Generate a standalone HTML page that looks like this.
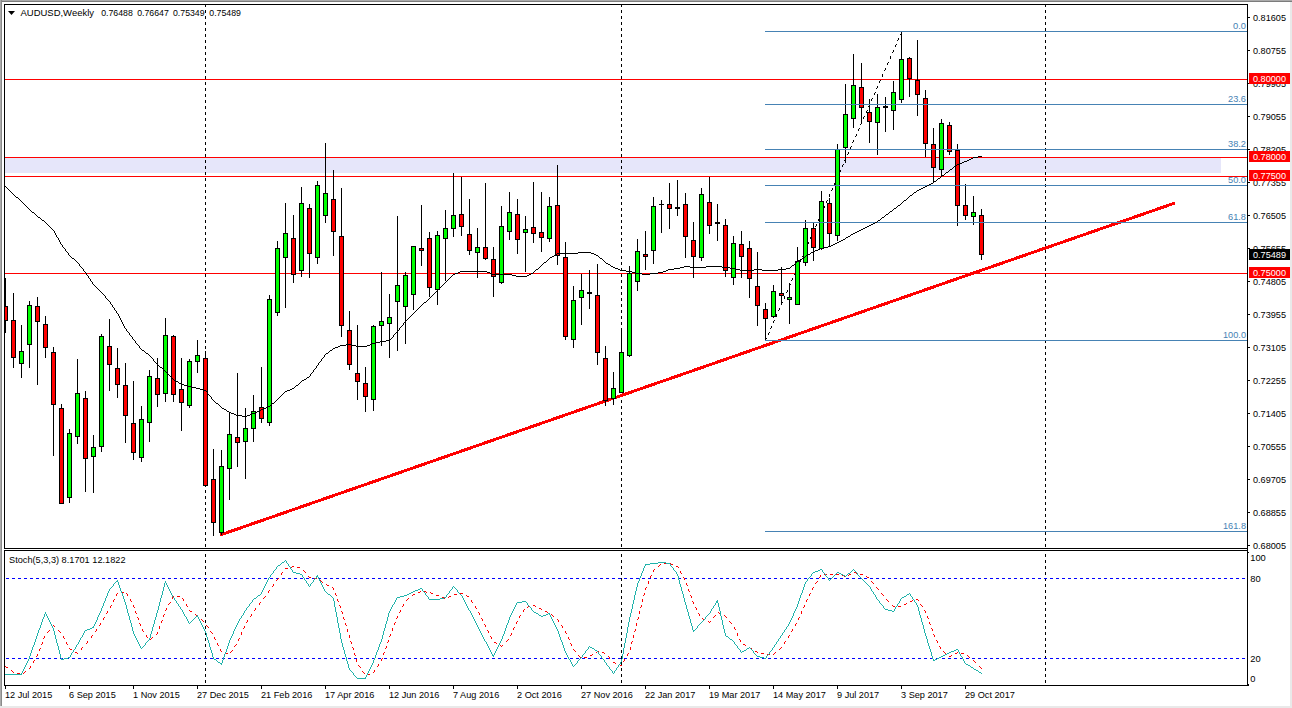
<!DOCTYPE html>
<html lang="en"><head><meta charset="utf-8"><title>AUDUSD,Weekly</title>
<style>html,body{margin:0;padding:0;background:#fff;overflow:hidden}svg{display:block}text{font-family:"Liberation Sans",Arial,sans-serif;font-size:9.8px;fill:#000}.fib{fill:#4682b4}.w{fill:#fff}</style></head><body>
<svg width="1292" height="708" viewBox="0 0 1292 708">
<g shape-rendering="crispEdges">
<rect x="0" y="0" width="1292" height="708" fill="#fff"/>
<rect x="0" y="0" width="1292" height="1" fill="#ababab"/>
<rect x="0" y="1" width="1292" height="1" fill="#7c7c7c"/>
<rect x="0" y="0" width="1" height="706" fill="#ababab"/>
<rect x="1" y="0" width="1" height="706" fill="#8a8a8a"/>
<rect x="1290" y="2" width="2" height="706" fill="#e9e9e9"/>
<rect x="0" y="706" width="1292" height="2" fill="#e9e9e9"/>
<rect x="5" y="158" width="1216" height="15" fill="#e6e6fa"/>
<line x1="205.5" y1="4" x2="205.5" y2="548" stroke="#000" stroke-width="1" stroke-dasharray="3 3"/>
<line x1="205.5" y1="550" x2="205.5" y2="685" stroke="#000" stroke-width="1" stroke-dasharray="3 3" stroke-dashoffset="2"/>
<line x1="621.5" y1="4" x2="621.5" y2="548" stroke="#000" stroke-width="1" stroke-dasharray="3 3"/>
<line x1="621.5" y1="550" x2="621.5" y2="685" stroke="#000" stroke-width="1" stroke-dasharray="3 3" stroke-dashoffset="2"/>
<line x1="1045.5" y1="4" x2="1045.5" y2="548" stroke="#000" stroke-width="1" stroke-dasharray="3 3"/>
<line x1="1045.5" y1="550" x2="1045.5" y2="685" stroke="#000" stroke-width="1" stroke-dasharray="3 3" stroke-dashoffset="2"/>
<rect x="5" y="79" width="1242" height="1" fill="#ff0000"/>
<rect x="5" y="157" width="1242" height="1" fill="#ff0000"/>
<rect x="5" y="176" width="1242" height="1" fill="#ff0000"/>
<rect x="5" y="273" width="1242" height="1" fill="#ff0000"/>
</g>
<path d="M901 32h1v2h-1zM900 34h1v1h-1zM898 38h1v2h-1zM897 40h1v1h-1zM896 44h1v1h-1zM895 45h1v2h-1zM893 50h1v2h-1zM892 52h1v1h-1zM890 56h1v3h-1zM888 62h1v1h-1zM887 63h1v2h-1zM885 68h1v2h-1zM884 70h1v1h-1zM882 74h1v3h-1zM880 80h1v1h-1zM879 81h1v2h-1zM877 86h1v2h-1zM876 88h1v1h-1zM875 92h1v1h-1zM874 93h1v2h-1zM872 98h1v1h-1zM871 99h1v2h-1zM869 104h1v2h-1zM868 106h1v1h-1zM867 110h1v1h-1zM866 111h1v2h-1zM864 116h1v1h-1zM863 117h1v2h-1zM861 122h1v2h-1zM860 124h1v1h-1zM859 128h1v1h-1zM858 129h1v2h-1zM856 134h1v2h-1zM855 136h1v1h-1zM853 140h1v2h-1zM852 142h1v1h-1zM851 146h1v1h-1zM850 147h1v2h-1zM848 152h1v2h-1zM847 154h1v1h-1zM845 158h1v2h-1zM844 160h1v1h-1zM843 164h1v1h-1zM842 165h1v2h-1zM840 170h1v2h-1zM839 172h1v1h-1zM837 176h1v3h-1zM835 182h1v1h-1zM834 183h1v2h-1zM832 188h1v2h-1zM831 190h1v1h-1zM829 194h1v3h-1zM827 200h1v1h-1zM826 201h1v2h-1zM824 206h1v2h-1zM823 208h1v1h-1zM822 212h1v1h-1zM821 213h1v2h-1zM819 218h1v1h-1zM818 219h1v2h-1zM816 224h1v2h-1zM815 226h1v1h-1zM814 230h1v1h-1zM813 231h1v2h-1zM811 236h1v1h-1zM810 237h1v2h-1zM808 242h1v2h-1zM807 244h1v1h-1zM806 248h1v1h-1zM805 249h1v2h-1zM803 254h1v2h-1zM802 256h1v1h-1zM800 260h1v2h-1zM799 262h1v1h-1zM798 266h1v1h-1zM797 267h1v2h-1zM795 272h1v2h-1zM794 274h1v1h-1zM792 278h1v2h-1zM791 280h1v1h-1zM790 284h1v1h-1zM789 285h1v2h-1zM787 290h1v2h-1zM786 292h1v1h-1zM784 296h1v3h-1zM782 302h1v1h-1zM781 303h1v2h-1zM779 308h1v2h-1zM778 310h1v1h-1zM776 314h1v3h-1zM774 320h1v1h-1zM773 321h1v2h-1zM771 326h1v2h-1zM770 328h1v1h-1zM769 332h1v1h-1zM768 333h1v2h-1zM766 338h1v1h-1zM765 339h1v2h-1z" fill="#000" shape-rendering="crispEdges"/>
<line x1="221.3" y1="534.6" x2="1173.5" y2="203.5" stroke="#ff0000" stroke-width="3" stroke-linecap="round" shape-rendering="crispEdges"/>
<g shape-rendering="crispEdges">
<rect x="5" y="278" width="1" height="55" fill="#000"/>
<rect x="5" y="306" width="3" height="15" fill="#000"/>
<rect x="5" y="307" width="2" height="13" fill="#ff0000"/>
<rect x="13" y="293" width="1" height="75" fill="#000"/>
<rect x="11" y="320" width="5" height="38" fill="#000"/>
<rect x="12" y="321" width="3" height="36" fill="#ff0000"/>
<rect x="21" y="325" width="1" height="53" fill="#000"/>
<rect x="19" y="351" width="5" height="13" fill="#000"/>
<rect x="20" y="352" width="3" height="11" fill="#00ff00"/>
<rect x="29" y="301" width="1" height="67" fill="#000"/>
<rect x="27" y="305" width="5" height="40" fill="#000"/>
<rect x="28" y="306" width="3" height="38" fill="#00ff00"/>
<rect x="37" y="297" width="1" height="88" fill="#000"/>
<rect x="35" y="306" width="5" height="16" fill="#000"/>
<rect x="36" y="307" width="3" height="14" fill="#ff0000"/>
<rect x="45" y="316" width="1" height="42" fill="#000"/>
<rect x="43" y="324" width="5" height="24" fill="#000"/>
<rect x="44" y="325" width="3" height="22" fill="#ff0000"/>
<rect x="53" y="347" width="1" height="109" fill="#000"/>
<rect x="51" y="352" width="5" height="53" fill="#000"/>
<rect x="52" y="353" width="3" height="51" fill="#ff0000"/>
<rect x="61" y="404" width="1" height="100" fill="#000"/>
<rect x="59" y="408" width="5" height="96" fill="#000"/>
<rect x="60" y="409" width="3" height="94" fill="#ff0000"/>
<rect x="69" y="429" width="1" height="74" fill="#000"/>
<rect x="67" y="433" width="5" height="65" fill="#000"/>
<rect x="68" y="434" width="3" height="63" fill="#00ff00"/>
<rect x="77" y="359" width="1" height="85" fill="#000"/>
<rect x="75" y="393" width="5" height="44" fill="#000"/>
<rect x="76" y="394" width="3" height="42" fill="#00ff00"/>
<rect x="85" y="391" width="1" height="101" fill="#000"/>
<rect x="83" y="398" width="5" height="61" fill="#000"/>
<rect x="84" y="399" width="3" height="59" fill="#ff0000"/>
<rect x="93" y="435" width="1" height="58" fill="#000"/>
<rect x="91" y="447" width="5" height="10" fill="#000"/>
<rect x="92" y="448" width="3" height="8" fill="#00ff00"/>
<rect x="101" y="334" width="1" height="118" fill="#000"/>
<rect x="99" y="336" width="5" height="111" fill="#000"/>
<rect x="100" y="337" width="3" height="109" fill="#00ff00"/>
<rect x="109" y="319" width="1" height="72" fill="#000"/>
<rect x="107" y="346" width="5" height="19" fill="#000"/>
<rect x="108" y="347" width="3" height="17" fill="#ff0000"/>
<rect x="117" y="348" width="1" height="50" fill="#000"/>
<rect x="115" y="368" width="5" height="17" fill="#000"/>
<rect x="116" y="369" width="3" height="15" fill="#ff0000"/>
<rect x="125" y="363" width="1" height="80" fill="#000"/>
<rect x="123" y="385" width="5" height="31" fill="#000"/>
<rect x="124" y="386" width="3" height="29" fill="#ff0000"/>
<rect x="133" y="381" width="1" height="79" fill="#000"/>
<rect x="131" y="423" width="5" height="30" fill="#000"/>
<rect x="132" y="424" width="3" height="28" fill="#ff0000"/>
<rect x="141" y="406" width="1" height="56" fill="#000"/>
<rect x="139" y="419" width="5" height="39" fill="#000"/>
<rect x="140" y="420" width="3" height="37" fill="#00ff00"/>
<rect x="149" y="370" width="1" height="72" fill="#000"/>
<rect x="147" y="376" width="5" height="47" fill="#000"/>
<rect x="148" y="377" width="3" height="45" fill="#00ff00"/>
<rect x="157" y="358" width="1" height="49" fill="#000"/>
<rect x="155" y="378" width="5" height="17" fill="#000"/>
<rect x="156" y="379" width="3" height="15" fill="#ff0000"/>
<rect x="165" y="318" width="1" height="84" fill="#000"/>
<rect x="163" y="335" width="5" height="59" fill="#000"/>
<rect x="164" y="336" width="3" height="57" fill="#00ff00"/>
<rect x="173" y="335" width="1" height="67" fill="#000"/>
<rect x="171" y="336" width="5" height="59" fill="#000"/>
<rect x="172" y="337" width="3" height="57" fill="#ff0000"/>
<rect x="181" y="358" width="1" height="73" fill="#000"/>
<rect x="179" y="389" width="5" height="14" fill="#000"/>
<rect x="180" y="390" width="3" height="12" fill="#ff0000"/>
<rect x="189" y="359" width="1" height="49" fill="#000"/>
<rect x="187" y="361" width="5" height="45" fill="#000"/>
<rect x="188" y="362" width="3" height="43" fill="#00ff00"/>
<rect x="197" y="340" width="1" height="33" fill="#000"/>
<rect x="195" y="355" width="5" height="7" fill="#000"/>
<rect x="196" y="356" width="3" height="5" fill="#00ff00"/>
<rect x="205" y="351" width="1" height="135" fill="#000"/>
<rect x="203" y="358" width="5" height="128" fill="#000"/>
<rect x="204" y="359" width="3" height="126" fill="#ff0000"/>
<rect x="213" y="449" width="1" height="87" fill="#000"/>
<rect x="211" y="479" width="5" height="44" fill="#000"/>
<rect x="212" y="480" width="3" height="42" fill="#ff0000"/>
<rect x="221" y="450" width="1" height="85" fill="#000"/>
<rect x="219" y="466" width="5" height="67" fill="#000"/>
<rect x="220" y="467" width="3" height="65" fill="#00ff00"/>
<rect x="229" y="412" width="1" height="88" fill="#000"/>
<rect x="227" y="434" width="5" height="35" fill="#000"/>
<rect x="228" y="435" width="3" height="33" fill="#00ff00"/>
<rect x="237" y="373" width="1" height="94" fill="#000"/>
<rect x="235" y="437" width="5" height="6" fill="#000"/>
<rect x="236" y="438" width="3" height="4" fill="#ff0000"/>
<rect x="245" y="408" width="1" height="71" fill="#000"/>
<rect x="243" y="428" width="5" height="14" fill="#000"/>
<rect x="244" y="429" width="3" height="12" fill="#00ff00"/>
<rect x="253" y="395" width="1" height="47" fill="#000"/>
<rect x="251" y="411" width="5" height="18" fill="#000"/>
<rect x="252" y="412" width="3" height="16" fill="#00ff00"/>
<rect x="261" y="367" width="1" height="56" fill="#000"/>
<rect x="259" y="407" width="5" height="12" fill="#000"/>
<rect x="260" y="408" width="3" height="10" fill="#ff0000"/>
<rect x="269" y="295" width="1" height="131" fill="#000"/>
<rect x="267" y="299" width="5" height="124" fill="#000"/>
<rect x="268" y="300" width="3" height="122" fill="#00ff00"/>
<rect x="277" y="241" width="1" height="75" fill="#000"/>
<rect x="275" y="248" width="5" height="65" fill="#000"/>
<rect x="276" y="249" width="3" height="63" fill="#00ff00"/>
<rect x="285" y="203" width="1" height="105" fill="#000"/>
<rect x="283" y="233" width="5" height="25" fill="#000"/>
<rect x="284" y="234" width="3" height="23" fill="#00ff00"/>
<rect x="293" y="215" width="1" height="68" fill="#000"/>
<rect x="291" y="238" width="5" height="37" fill="#000"/>
<rect x="292" y="239" width="3" height="35" fill="#ff0000"/>
<rect x="301" y="187" width="1" height="90" fill="#000"/>
<rect x="299" y="203" width="5" height="68" fill="#000"/>
<rect x="300" y="204" width="3" height="66" fill="#00ff00"/>
<rect x="309" y="204" width="1" height="74" fill="#000"/>
<rect x="307" y="208" width="5" height="46" fill="#000"/>
<rect x="308" y="209" width="3" height="44" fill="#ff0000"/>
<rect x="317" y="181" width="1" height="83" fill="#000"/>
<rect x="315" y="185" width="5" height="73" fill="#000"/>
<rect x="316" y="186" width="3" height="71" fill="#00ff00"/>
<rect x="325" y="143" width="1" height="80" fill="#000"/>
<rect x="323" y="193" width="5" height="23" fill="#000"/>
<rect x="324" y="194" width="3" height="21" fill="#00ff00"/>
<rect x="333" y="170" width="1" height="86" fill="#000"/>
<rect x="331" y="199" width="5" height="33" fill="#000"/>
<rect x="332" y="200" width="3" height="31" fill="#ff0000"/>
<rect x="341" y="188" width="1" height="149" fill="#000"/>
<rect x="339" y="236" width="5" height="90" fill="#000"/>
<rect x="340" y="237" width="3" height="88" fill="#ff0000"/>
<rect x="349" y="311" width="1" height="59" fill="#000"/>
<rect x="347" y="330" width="5" height="35" fill="#000"/>
<rect x="348" y="331" width="3" height="33" fill="#ff0000"/>
<rect x="357" y="325" width="1" height="75" fill="#000"/>
<rect x="355" y="373" width="5" height="9" fill="#000"/>
<rect x="356" y="374" width="3" height="7" fill="#ff0000"/>
<rect x="365" y="367" width="1" height="45" fill="#000"/>
<rect x="363" y="383" width="5" height="14" fill="#000"/>
<rect x="364" y="384" width="3" height="12" fill="#ff0000"/>
<rect x="373" y="325" width="1" height="86" fill="#000"/>
<rect x="371" y="326" width="5" height="74" fill="#000"/>
<rect x="372" y="327" width="3" height="72" fill="#00ff00"/>
<rect x="381" y="272" width="1" height="74" fill="#000"/>
<rect x="379" y="321" width="5" height="5" fill="#000"/>
<rect x="380" y="322" width="3" height="3" fill="#00ff00"/>
<rect x="389" y="294" width="1" height="64" fill="#000"/>
<rect x="387" y="317" width="5" height="7" fill="#000"/>
<rect x="388" y="318" width="3" height="5" fill="#00ff00"/>
<rect x="397" y="216" width="1" height="135" fill="#000"/>
<rect x="395" y="285" width="5" height="17" fill="#000"/>
<rect x="396" y="286" width="3" height="15" fill="#00ff00"/>
<rect x="405" y="272" width="1" height="72" fill="#000"/>
<rect x="403" y="275" width="5" height="32" fill="#000"/>
<rect x="404" y="276" width="3" height="30" fill="#00ff00"/>
<rect x="413" y="246" width="1" height="64" fill="#000"/>
<rect x="411" y="246" width="5" height="49" fill="#000"/>
<rect x="412" y="247" width="3" height="47" fill="#00ff00"/>
<rect x="421" y="205" width="1" height="61" fill="#000"/>
<rect x="419" y="248" width="5" height="3" fill="#000"/>
<rect x="420" y="249" width="3" height="1" fill="#ff0000"/>
<rect x="429" y="232" width="1" height="65" fill="#000"/>
<rect x="427" y="238" width="5" height="50" fill="#000"/>
<rect x="428" y="239" width="3" height="48" fill="#ff0000"/>
<rect x="437" y="231" width="1" height="74" fill="#000"/>
<rect x="435" y="235" width="5" height="55" fill="#000"/>
<rect x="436" y="236" width="3" height="53" fill="#00ff00"/>
<rect x="445" y="210" width="1" height="71" fill="#000"/>
<rect x="443" y="228" width="5" height="11" fill="#000"/>
<rect x="444" y="229" width="3" height="9" fill="#00ff00"/>
<rect x="453" y="173" width="1" height="64" fill="#000"/>
<rect x="451" y="215" width="5" height="14" fill="#000"/>
<rect x="452" y="216" width="3" height="12" fill="#00ff00"/>
<rect x="461" y="177" width="1" height="59" fill="#000"/>
<rect x="459" y="214" width="5" height="13" fill="#000"/>
<rect x="460" y="215" width="3" height="11" fill="#ff0000"/>
<rect x="469" y="199" width="1" height="56" fill="#000"/>
<rect x="467" y="234" width="5" height="17" fill="#000"/>
<rect x="468" y="235" width="3" height="15" fill="#ff0000"/>
<rect x="477" y="228" width="1" height="50" fill="#000"/>
<rect x="475" y="247" width="5" height="6" fill="#000"/>
<rect x="476" y="248" width="3" height="4" fill="#00ff00"/>
<rect x="485" y="183" width="1" height="77" fill="#000"/>
<rect x="483" y="247" width="5" height="12" fill="#000"/>
<rect x="484" y="248" width="3" height="10" fill="#ff0000"/>
<rect x="493" y="247" width="1" height="50" fill="#000"/>
<rect x="491" y="259" width="5" height="18" fill="#000"/>
<rect x="492" y="260" width="3" height="16" fill="#ff0000"/>
<rect x="501" y="206" width="1" height="78" fill="#000"/>
<rect x="499" y="226" width="5" height="57" fill="#000"/>
<rect x="500" y="227" width="3" height="55" fill="#00ff00"/>
<rect x="509" y="192" width="1" height="48" fill="#000"/>
<rect x="507" y="212" width="5" height="20" fill="#000"/>
<rect x="508" y="213" width="3" height="18" fill="#00ff00"/>
<rect x="517" y="199" width="1" height="55" fill="#000"/>
<rect x="515" y="214" width="5" height="26" fill="#000"/>
<rect x="516" y="215" width="3" height="24" fill="#ff0000"/>
<rect x="525" y="216" width="1" height="56" fill="#000"/>
<rect x="523" y="229" width="5" height="4" fill="#000"/>
<rect x="524" y="230" width="3" height="2" fill="#00ff00"/>
<rect x="533" y="182" width="1" height="61" fill="#000"/>
<rect x="531" y="227" width="5" height="7" fill="#000"/>
<rect x="532" y="228" width="3" height="5" fill="#ff0000"/>
<rect x="541" y="192" width="1" height="60" fill="#000"/>
<rect x="539" y="232" width="5" height="6" fill="#000"/>
<rect x="540" y="233" width="3" height="4" fill="#ff0000"/>
<rect x="549" y="197" width="1" height="45" fill="#000"/>
<rect x="547" y="206" width="5" height="33" fill="#000"/>
<rect x="548" y="207" width="3" height="31" fill="#00ff00"/>
<rect x="557" y="165" width="1" height="100" fill="#000"/>
<rect x="555" y="205" width="5" height="51" fill="#000"/>
<rect x="556" y="206" width="3" height="49" fill="#ff0000"/>
<rect x="565" y="242" width="1" height="98" fill="#000"/>
<rect x="563" y="257" width="5" height="80" fill="#000"/>
<rect x="564" y="258" width="3" height="78" fill="#ff0000"/>
<rect x="573" y="286" width="1" height="62" fill="#000"/>
<rect x="571" y="300" width="5" height="40" fill="#000"/>
<rect x="572" y="301" width="3" height="38" fill="#00ff00"/>
<rect x="581" y="274" width="1" height="51" fill="#000"/>
<rect x="579" y="290" width="5" height="8" fill="#000"/>
<rect x="580" y="291" width="3" height="6" fill="#00ff00"/>
<rect x="589" y="270" width="1" height="39" fill="#000"/>
<rect x="587" y="292" width="5" height="2" fill="#000"/>
<rect x="597" y="264" width="1" height="101" fill="#000"/>
<rect x="595" y="295" width="5" height="58" fill="#000"/>
<rect x="596" y="296" width="3" height="56" fill="#ff0000"/>
<rect x="605" y="346" width="1" height="60" fill="#000"/>
<rect x="603" y="358" width="5" height="43" fill="#000"/>
<rect x="604" y="359" width="3" height="41" fill="#ff0000"/>
<rect x="613" y="372" width="1" height="33" fill="#000"/>
<rect x="611" y="388" width="5" height="11" fill="#000"/>
<rect x="612" y="389" width="3" height="9" fill="#00ff00"/>
<rect x="621" y="329" width="1" height="64" fill="#000"/>
<rect x="619" y="352" width="5" height="41" fill="#000"/>
<rect x="620" y="353" width="3" height="39" fill="#00ff00"/>
<rect x="629" y="266" width="1" height="91" fill="#000"/>
<rect x="627" y="273" width="5" height="83" fill="#000"/>
<rect x="628" y="274" width="3" height="81" fill="#00ff00"/>
<rect x="637" y="239" width="1" height="52" fill="#000"/>
<rect x="635" y="251" width="5" height="31" fill="#000"/>
<rect x="636" y="252" width="3" height="29" fill="#00ff00"/>
<rect x="645" y="231" width="1" height="39" fill="#000"/>
<rect x="643" y="254" width="5" height="3" fill="#000"/>
<rect x="644" y="255" width="3" height="1" fill="#ff0000"/>
<rect x="653" y="197" width="1" height="67" fill="#000"/>
<rect x="651" y="206" width="5" height="45" fill="#000"/>
<rect x="652" y="207" width="3" height="43" fill="#00ff00"/>
<rect x="661" y="200" width="1" height="33" fill="#000"/>
<rect x="659" y="204" width="5" height="1" fill="#000"/>
<rect x="669" y="183" width="1" height="46" fill="#000"/>
<rect x="667" y="204" width="5" height="5" fill="#000"/>
<rect x="668" y="205" width="3" height="3" fill="#ff0000"/>
<rect x="677" y="180" width="1" height="36" fill="#000"/>
<rect x="675" y="207" width="5" height="2" fill="#000"/>
<rect x="685" y="193" width="1" height="65" fill="#000"/>
<rect x="683" y="204" width="5" height="33" fill="#000"/>
<rect x="684" y="205" width="3" height="31" fill="#ff0000"/>
<rect x="693" y="222" width="1" height="56" fill="#000"/>
<rect x="691" y="240" width="5" height="17" fill="#000"/>
<rect x="692" y="241" width="3" height="15" fill="#ff0000"/>
<rect x="701" y="188" width="1" height="73" fill="#000"/>
<rect x="699" y="194" width="5" height="64" fill="#000"/>
<rect x="700" y="195" width="3" height="62" fill="#00ff00"/>
<rect x="709" y="177" width="1" height="57" fill="#000"/>
<rect x="707" y="202" width="5" height="24" fill="#000"/>
<rect x="708" y="203" width="3" height="22" fill="#ff0000"/>
<rect x="717" y="204" width="1" height="37" fill="#000"/>
<rect x="715" y="222" width="5" height="2" fill="#000"/>
<rect x="725" y="219" width="1" height="58" fill="#000"/>
<rect x="723" y="225" width="5" height="46" fill="#000"/>
<rect x="724" y="226" width="3" height="44" fill="#ff0000"/>
<rect x="733" y="236" width="1" height="49" fill="#000"/>
<rect x="731" y="243" width="5" height="35" fill="#000"/>
<rect x="732" y="244" width="3" height="33" fill="#00ff00"/>
<rect x="741" y="231" width="1" height="47" fill="#000"/>
<rect x="739" y="244" width="5" height="13" fill="#000"/>
<rect x="740" y="245" width="3" height="11" fill="#ff0000"/>
<rect x="749" y="241" width="1" height="57" fill="#000"/>
<rect x="747" y="248" width="5" height="31" fill="#000"/>
<rect x="748" y="249" width="3" height="29" fill="#ff0000"/>
<rect x="757" y="252" width="1" height="74" fill="#000"/>
<rect x="755" y="286" width="5" height="20" fill="#000"/>
<rect x="756" y="287" width="3" height="18" fill="#ff0000"/>
<rect x="765" y="303" width="1" height="37" fill="#000"/>
<rect x="763" y="309" width="5" height="10" fill="#000"/>
<rect x="764" y="310" width="3" height="8" fill="#ff0000"/>
<rect x="773" y="285" width="1" height="33" fill="#000"/>
<rect x="771" y="291" width="5" height="26" fill="#000"/>
<rect x="772" y="292" width="3" height="24" fill="#00ff00"/>
<rect x="781" y="267" width="1" height="38" fill="#000"/>
<rect x="779" y="293" width="5" height="3" fill="#000"/>
<rect x="780" y="294" width="3" height="1" fill="#ff0000"/>
<rect x="789" y="283" width="1" height="41" fill="#000"/>
<rect x="787" y="297" width="5" height="3" fill="#000"/>
<rect x="788" y="298" width="3" height="1" fill="#00ff00"/>
<rect x="797" y="247" width="1" height="58" fill="#000"/>
<rect x="795" y="261" width="5" height="44" fill="#000"/>
<rect x="796" y="262" width="3" height="42" fill="#00ff00"/>
<rect x="805" y="220" width="1" height="46" fill="#000"/>
<rect x="803" y="228" width="5" height="35" fill="#000"/>
<rect x="804" y="229" width="3" height="33" fill="#00ff00"/>
<rect x="813" y="222" width="1" height="39" fill="#000"/>
<rect x="811" y="228" width="5" height="20" fill="#000"/>
<rect x="812" y="229" width="3" height="18" fill="#ff0000"/>
<rect x="821" y="191" width="1" height="59" fill="#000"/>
<rect x="819" y="201" width="5" height="48" fill="#000"/>
<rect x="820" y="202" width="3" height="46" fill="#00ff00"/>
<rect x="829" y="198" width="1" height="49" fill="#000"/>
<rect x="827" y="203" width="5" height="31" fill="#000"/>
<rect x="828" y="204" width="3" height="29" fill="#ff0000"/>
<rect x="837" y="144" width="1" height="97" fill="#000"/>
<rect x="835" y="149" width="5" height="87" fill="#000"/>
<rect x="836" y="150" width="3" height="85" fill="#00ff00"/>
<rect x="845" y="84" width="1" height="79" fill="#000"/>
<rect x="843" y="114" width="5" height="34" fill="#000"/>
<rect x="844" y="115" width="3" height="32" fill="#00ff00"/>
<rect x="853" y="54" width="1" height="74" fill="#000"/>
<rect x="851" y="85" width="5" height="34" fill="#000"/>
<rect x="852" y="86" width="3" height="32" fill="#00ff00"/>
<rect x="861" y="63" width="1" height="61" fill="#000"/>
<rect x="859" y="87" width="5" height="21" fill="#000"/>
<rect x="860" y="88" width="3" height="19" fill="#ff0000"/>
<rect x="869" y="99" width="1" height="44" fill="#000"/>
<rect x="867" y="112" width="5" height="10" fill="#000"/>
<rect x="868" y="113" width="3" height="8" fill="#ff0000"/>
<rect x="877" y="94" width="1" height="61" fill="#000"/>
<rect x="875" y="107" width="5" height="16" fill="#000"/>
<rect x="876" y="108" width="3" height="14" fill="#00ff00"/>
<rect x="885" y="97" width="1" height="35" fill="#000"/>
<rect x="883" y="106" width="5" height="2" fill="#000"/>
<rect x="893" y="81" width="1" height="49" fill="#000"/>
<rect x="891" y="92" width="5" height="19" fill="#000"/>
<rect x="892" y="93" width="3" height="17" fill="#00ff00"/>
<rect x="901" y="31" width="1" height="72" fill="#000"/>
<rect x="899" y="59" width="5" height="41" fill="#000"/>
<rect x="900" y="60" width="3" height="39" fill="#00ff00"/>
<rect x="909" y="57" width="1" height="40" fill="#000"/>
<rect x="907" y="58" width="5" height="21" fill="#000"/>
<rect x="908" y="59" width="3" height="19" fill="#ff0000"/>
<rect x="917" y="40" width="1" height="76" fill="#000"/>
<rect x="915" y="80" width="5" height="15" fill="#000"/>
<rect x="916" y="81" width="3" height="13" fill="#ff0000"/>
<rect x="925" y="90" width="1" height="67" fill="#000"/>
<rect x="923" y="98" width="5" height="46" fill="#000"/>
<rect x="924" y="99" width="3" height="44" fill="#ff0000"/>
<rect x="933" y="128" width="1" height="55" fill="#000"/>
<rect x="931" y="144" width="5" height="24" fill="#000"/>
<rect x="932" y="145" width="3" height="22" fill="#ff0000"/>
<rect x="941" y="119" width="1" height="58" fill="#000"/>
<rect x="939" y="123" width="5" height="47" fill="#000"/>
<rect x="940" y="124" width="3" height="45" fill="#00ff00"/>
<rect x="949" y="122" width="1" height="33" fill="#000"/>
<rect x="947" y="125" width="5" height="27" fill="#000"/>
<rect x="948" y="126" width="3" height="25" fill="#ff0000"/>
<rect x="957" y="144" width="1" height="82" fill="#000"/>
<rect x="955" y="150" width="5" height="56" fill="#000"/>
<rect x="956" y="151" width="3" height="54" fill="#ff0000"/>
<rect x="965" y="184" width="1" height="36" fill="#000"/>
<rect x="963" y="205" width="5" height="11" fill="#000"/>
<rect x="964" y="206" width="3" height="9" fill="#ff0000"/>
<rect x="973" y="196" width="1" height="29" fill="#000"/>
<rect x="971" y="212" width="5" height="5" fill="#000"/>
<rect x="972" y="213" width="3" height="3" fill="#00ff00"/>
<rect x="981" y="209" width="1" height="51" fill="#000"/>
<rect x="979" y="215" width="5" height="40" fill="#000"/>
<rect x="980" y="216" width="3" height="38" fill="#ff0000"/>
</g>
<g shape-rendering="crispEdges">
<rect x="765" y="31" width="482" height="1" fill="#4682b4"/>
<rect x="765" y="104" width="482" height="1" fill="#4682b4"/>
<rect x="765" y="149" width="482" height="1" fill="#4682b4"/>
<rect x="765" y="185" width="482" height="1" fill="#4682b4"/>
<rect x="765" y="222" width="482" height="1" fill="#4682b4"/>
<rect x="765" y="340" width="482" height="1" fill="#4682b4"/>
<rect x="765" y="531" width="482" height="1" fill="#4682b4"/>
</g>
<path d="M978 156h4v1h-4zM973 157h5v1h-5zM971 158h2v1h-2zM969 159h2v1h-2zM967 160h2v1h-2zM964 161h3v1h-3zM962 162h2v1h-2zM959 163h3v1h-3zM957 164h2v1h-2zM956 165h1v1h-1zM954 166h2v1h-2zM953 167h1v1h-1zM952 168h1v1h-1zM950 169h2v1h-2zM949 170h1v1h-1zM948 171h1v1h-1zM946 172h2v1h-2zM945 173h1v1h-1zM944 174h1v1h-1zM942 175h2v1h-2zM941 176h1v1h-1zM940 177h1v1h-1zM938 178h2v1h-2zM937 179h1v1h-1zM936 180h1v1h-1zM934 181h2v1h-2zM933 182h1v1h-1zM931 183h2v1h-2zM929 184h2v1h-2zM927 185h2v1h-2zM5 186h1v1h-1zM925 186h2v1h-2zM6 187h1v1h-1zM923 187h2v1h-2zM7 188h1v1h-1zM921 188h2v1h-2zM8 189h1v1h-1zM919 189h2v1h-2zM9 190h1v1h-1zM917 190h2v1h-2zM10 191h1v1h-1zM916 191h1v1h-1zM11 192h1v1h-1zM914 192h2v1h-2zM12 193h1v1h-1zM913 193h1v1h-1zM13 194h1v1h-1zM912 194h1v1h-1zM14 195h1v1h-1zM910 195h2v1h-2zM15 196h1v1h-1zM909 196h1v1h-1zM16 197h2v1h-2zM908 197h1v1h-1zM18 198h1v1h-1zM907 198h1v1h-1zM19 199h1v1h-1zM906 199h1v1h-1zM20 200h1v1h-1zM904 200h2v1h-2zM21 201h1v1h-1zM903 201h1v1h-1zM22 202h1v1h-1zM902 202h1v1h-1zM23 203h1v1h-1zM901 203h1v1h-1zM24 204h1v1h-1zM900 204h1v1h-1zM25 205h1v1h-1zM898 205h2v1h-2zM26 206h1v1h-1zM897 206h1v1h-1zM27 207h1v1h-1zM896 207h1v1h-1zM28 208h1v1h-1zM894 208h2v1h-2zM29 209h1v1h-1zM893 209h1v1h-1zM30 210h1v1h-1zM892 210h1v1h-1zM31 211h1v1h-1zM890 211h2v1h-2zM32 212h2v1h-2zM889 212h1v1h-1zM34 213h1v1h-1zM888 213h1v1h-1zM35 214h1v1h-1zM886 214h2v1h-2zM36 215h1v1h-1zM885 215h1v1h-1zM37 216h1v1h-1zM884 216h1v1h-1zM38 217h2v1h-2zM882 217h2v1h-2zM40 218h1v1h-1zM881 218h1v1h-1zM41 219h1v1h-1zM880 219h1v1h-1zM42 220h2v1h-2zM878 220h2v1h-2zM44 221h1v1h-1zM877 221h1v1h-1zM45 222h1v1h-1zM875 222h2v1h-2zM46 223h1v1h-1zM873 223h2v1h-2zM47 224h1v1h-1zM871 224h2v1h-2zM48 225h1v1h-1zM869 225h2v1h-2zM49 226h1v1h-1zM867 226h2v1h-2zM50 227h1v1h-1zM865 227h2v1h-2zM51 228h1v1h-1zM863 228h2v1h-2zM52 229h1v1h-1zM861 229h2v1h-2zM53 230h1v1h-1zM859 230h2v1h-2zM54 231h1v2h-1zM857 231h2v1h-2zM855 232h2v1h-2zM55 233h1v2h-1zM853 233h2v1h-2zM851 234h2v1h-2zM56 235h1v2h-1zM850 235h1v1h-1zM848 236h2v1h-2zM57 237h1v1h-1zM846 237h2v1h-2zM58 238h1v2h-1zM845 238h1v1h-1zM843 239h2v1h-2zM59 240h1v2h-1zM841 240h2v1h-2zM839 241h2v1h-2zM60 242h1v2h-1zM837 242h2v1h-2zM835 243h2v1h-2zM61 244h1v1h-1zM833 244h2v1h-2zM62 245h1v2h-1zM831 245h2v1h-2zM828 246h3v1h-3zM63 247h1v1h-1zM824 247h4v1h-4zM64 248h1v1h-1zM820 248h4v1h-4zM65 249h1v2h-1zM818 249h2v1h-2zM815 250h3v1h-3zM66 251h1v1h-1zM813 251h2v1h-2zM67 252h1v1h-1zM578 252h13v1h-13zM811 252h2v1h-2zM68 253h1v2h-1zM557 253h21v1h-21zM591 253h3v1h-3zM810 253h1v1h-1zM555 254h2v1h-2zM594 254h2v1h-2zM808 254h2v1h-2zM69 255h1v1h-1zM554 255h1v1h-1zM596 255h2v1h-2zM806 255h2v1h-2zM70 256h1v1h-1zM552 256h2v1h-2zM598 256h1v1h-1zM805 256h1v1h-1zM71 257h1v1h-1zM550 257h2v1h-2zM599 257h1v1h-1zM803 257h2v1h-2zM72 258h2v1h-2zM549 258h1v1h-1zM600 258h2v1h-2zM802 258h1v1h-1zM74 259h1v1h-1zM548 259h1v1h-1zM602 259h1v1h-1zM800 259h2v1h-2zM75 260h1v1h-1zM547 260h1v1h-1zM603 260h1v1h-1zM798 260h2v1h-2zM76 261h1v1h-1zM546 261h1v1h-1zM604 261h1v1h-1zM797 261h1v1h-1zM77 262h1v1h-1zM544 262h2v1h-2zM605 262h1v1h-1zM796 262h1v1h-1zM78 263h1v1h-1zM543 263h1v1h-1zM606 263h2v1h-2zM795 263h1v1h-1zM79 264h1v2h-1zM542 264h1v1h-1zM608 264h2v1h-2zM794 264h1v1h-1zM541 265h1v1h-1zM610 265h1v1h-1zM792 265h2v1h-2zM80 266h1v1h-1zM540 266h1v1h-1zM611 266h2v1h-2zM684 266h6v1h-6zM706 266h16v1h-16zM791 266h1v1h-1zM81 267h1v1h-1zM539 267h1v1h-1zM613 267h2v1h-2zM680 267h4v1h-4zM690 267h16v1h-16zM722 267h8v1h-8zM790 267h1v1h-1zM82 268h1v1h-1zM538 268h1v1h-1zM615 268h3v1h-3zM674 268h6v1h-6zM730 268h6v1h-6zM786 268h4v1h-4zM83 269h1v2h-1zM536 269h2v1h-2zM618 269h2v1h-2zM668 269h6v1h-6zM736 269h4v1h-4zM754 269h8v1h-8zM778 269h8v1h-8zM535 270h1v1h-1zM620 270h6v1h-6zM666 270h2v1h-2zM740 270h14v1h-14zM762 270h16v1h-16zM84 271h1v1h-1zM460 271h27v1h-27zM534 271h1v1h-1zM626 271h6v1h-6zM663 271h3v1h-3zM85 272h1v1h-1zM458 272h2v1h-2zM487 272h3v1h-3zM533 272h1v1h-1zM632 272h4v1h-4zM658 272h5v1h-5zM86 273h1v2h-1zM455 273h3v1h-3zM490 273h2v1h-2zM531 273h2v1h-2zM636 273h6v1h-6zM650 273h8v1h-8zM453 274h2v1h-2zM492 274h20v1h-20zM529 274h2v1h-2zM642 274h8v1h-8zM87 275h1v1h-1zM452 275h1v1h-1zM512 275h4v1h-4zM527 275h2v1h-2zM88 276h1v2h-1zM451 276h1v1h-1zM516 276h11v1h-11zM450 277h1v1h-1zM89 278h1v1h-1zM449 278h1v1h-1zM90 279h1v2h-1zM448 279h1v1h-1zM447 280h1v1h-1zM91 281h1v1h-1zM446 281h1v1h-1zM92 282h1v2h-1zM445 282h1v1h-1zM444 283h1v1h-1zM93 284h1v1h-1zM443 284h1v1h-1zM94 285h1v1h-1zM442 285h1v1h-1zM95 286h1v1h-1zM441 286h1v1h-1zM96 287h1v1h-1zM440 287h1v1h-1zM97 288h1v1h-1zM439 288h1v1h-1zM98 289h1v1h-1zM438 289h1v1h-1zM99 290h1v1h-1zM437 290h1v1h-1zM100 291h1v1h-1zM436 291h1v1h-1zM101 292h1v1h-1zM435 292h1v1h-1zM102 293h1v1h-1zM434 293h1v1h-1zM103 294h1v1h-1zM433 294h1v1h-1zM104 295h1v1h-1zM432 295h1v1h-1zM105 296h1v2h-1zM431 296h1v1h-1zM430 297h1v1h-1zM106 298h1v1h-1zM429 298h1v1h-1zM107 299h1v1h-1zM428 299h1v1h-1zM108 300h1v1h-1zM427 300h1v1h-1zM109 301h1v1h-1zM426 301h1v1h-1zM110 302h1v2h-1zM424 302h2v1h-2zM423 303h1v1h-1zM111 304h1v1h-1zM422 304h1v1h-1zM112 305h1v2h-1zM421 305h1v1h-1zM420 306h1v1h-1zM113 307h1v1h-1zM419 307h1v1h-1zM114 308h1v2h-1zM418 308h1v1h-1zM417 309h1v1h-1zM115 310h1v1h-1zM416 310h1v1h-1zM116 311h1v2h-1zM415 311h1v1h-1zM414 312h1v1h-1zM117 313h1v1h-1zM413 313h1v1h-1zM118 314h1v2h-1zM412 314h1v1h-1zM411 315h1v1h-1zM119 316h1v2h-1zM410 316h1v1h-1zM409 317h1v1h-1zM120 318h1v2h-1zM408 318h1v1h-1zM407 319h1v1h-1zM121 320h1v2h-1zM406 320h1v1h-1zM405 321h1v1h-1zM122 322h1v2h-1zM404 322h1v1h-1zM403 323h1v2h-1zM123 324h1v2h-1zM402 325h1v1h-1zM124 326h1v2h-1zM401 326h1v1h-1zM400 327h1v1h-1zM125 328h1v1h-1zM399 328h1v2h-1zM126 329h1v2h-1zM398 330h1v1h-1zM127 331h1v1h-1zM397 331h1v1h-1zM128 332h1v1h-1zM396 332h1v1h-1zM129 333h1v2h-1zM395 333h1v1h-1zM394 334h1v1h-1zM130 335h1v1h-1zM393 335h1v2h-1zM131 336h1v1h-1zM132 337h1v2h-1zM392 337h1v1h-1zM391 338h1v1h-1zM133 339h1v1h-1zM390 339h1v1h-1zM134 340h1v1h-1zM386 340h4v1h-4zM135 341h1v2h-1zM380 341h6v1h-6zM376 342h4v1h-4zM136 343h1v1h-1zM372 343h4v1h-4zM137 344h1v1h-1zM346 344h6v1h-6zM370 344h2v1h-2zM138 345h1v1h-1zM340 345h6v1h-6zM352 345h4v1h-4zM367 345h3v1h-3zM139 346h1v2h-1zM338 346h2v1h-2zM356 346h11v1h-11zM335 347h3v1h-3zM140 348h1v1h-1zM333 348h2v1h-2zM141 349h1v1h-1zM332 349h1v1h-1zM142 350h2v1h-2zM330 350h2v1h-2zM144 351h1v1h-1zM329 351h1v1h-1zM145 352h1v1h-1zM328 352h1v1h-1zM146 353h2v1h-2zM326 353h2v1h-2zM148 354h1v1h-1zM325 354h1v1h-1zM149 355h1v1h-1zM324 355h1v2h-1zM150 356h1v1h-1zM151 357h1v1h-1zM323 357h1v1h-1zM152 358h1v1h-1zM322 358h1v1h-1zM153 359h1v2h-1zM321 359h1v2h-1zM154 361h1v1h-1zM320 361h1v1h-1zM155 362h1v1h-1zM319 362h1v1h-1zM156 363h1v1h-1zM318 363h1v2h-1zM157 364h1v1h-1zM158 365h1v1h-1zM317 365h1v1h-1zM159 366h1v1h-1zM316 366h1v2h-1zM160 367h2v1h-2zM162 368h1v1h-1zM315 368h1v1h-1zM163 369h1v1h-1zM314 369h1v1h-1zM164 370h1v1h-1zM313 370h1v2h-1zM165 371h1v1h-1zM166 372h1v1h-1zM312 372h1v1h-1zM167 373h1v1h-1zM311 373h1v1h-1zM168 374h1v1h-1zM310 374h1v2h-1zM169 375h1v1h-1zM170 376h1v1h-1zM309 376h1v1h-1zM171 377h1v1h-1zM307 377h2v1h-2zM172 378h1v1h-1zM306 378h1v1h-1zM173 379h1v1h-1zM304 379h2v1h-2zM174 380h2v1h-2zM302 380h2v1h-2zM176 381h2v1h-2zM301 381h1v1h-1zM178 382h1v1h-1zM300 382h1v1h-1zM179 383h2v1h-2zM299 383h1v1h-1zM181 384h3v1h-3zM298 384h1v1h-1zM184 385h4v1h-4zM296 385h2v1h-2zM188 386h4v1h-4zM295 386h1v1h-1zM192 387h4v1h-4zM294 387h1v1h-1zM196 388h4v1h-4zM292 388h2v1h-2zM200 389h4v1h-4zM290 389h2v1h-2zM204 390h2v1h-2zM287 390h3v1h-3zM206 391h1v1h-1zM285 391h2v1h-2zM207 392h1v2h-1zM284 392h1v1h-1zM283 393h1v1h-1zM208 394h1v1h-1zM282 394h1v1h-1zM209 395h1v1h-1zM281 395h1v1h-1zM210 396h1v1h-1zM280 396h1v1h-1zM211 397h1v2h-1zM279 397h1v1h-1zM278 398h1v1h-1zM212 399h1v1h-1zM277 399h1v1h-1zM213 400h1v1h-1zM276 400h1v1h-1zM214 401h1v1h-1zM275 401h1v1h-1zM215 402h1v1h-1zM274 402h1v1h-1zM216 403h2v1h-2zM272 403h2v1h-2zM218 404h1v1h-1zM271 404h1v1h-1zM219 405h1v1h-1zM270 405h1v1h-1zM220 406h1v1h-1zM268 406h2v1h-2zM221 407h1v1h-1zM266 407h2v1h-2zM222 408h2v1h-2zM263 408h3v1h-3zM224 409h2v1h-2zM261 409h2v1h-2zM226 410h1v1h-1zM259 410h2v1h-2zM227 411h2v1h-2zM257 411h2v1h-2zM229 412h2v1h-2zM255 412h2v1h-2zM231 413h3v1h-3zM252 413h3v1h-3zM234 414h2v1h-2zM250 414h2v1h-2zM236 415h6v1h-6zM247 415h3v1h-3zM242 416h5v1h-5z" fill="#000" shape-rendering="crispEdges"/>
<g shape-rendering="crispEdges">
<line x1="6" y1="578.5" x2="1247" y2="578.5" stroke="#0000ff" stroke-width="1" stroke-dasharray="3 3"/>
<line x1="6" y1="658.5" x2="1247" y2="658.5" stroke="#0000ff" stroke-width="1" stroke-dasharray="3 3"/>
</g>
<path d="M664 563h3v1h-3zM670 563h1v1h-1zM660 564h1v1h-1zM671 564h2v1h-2zM659 565h1v1h-1zM292 566h2v1h-2zM658 566h1v1h-1zM676 566h2v1h-2zM291 567h1v1h-1zM297 567h3v1h-3zM678 567h1v1h-1zM285 568h3v1h-3zM654 569h1v1h-1zM303 570h1v1h-1zM653 570h1v2h-1zM304 571h1v1h-1zM680 571h1v2h-1zM282 572h1v1h-1zM305 572h1v1h-1zM854 572h2v1h-2zM281 573h1v2h-1zM681 573h1v1h-1zM856 573h1v1h-1zM824 574h3v1h-3zM830 574h3v1h-3zM836 574h3v1h-3zM849 574h2v1h-2zM860 574h3v1h-3zM651 575h1v1h-1zM820 575h1v2h-1zM842 575h2v1h-2zM848 575h1v1h-1zM308 576h1v1h-1zM650 576h1v2h-1zM844 576h1v1h-1zM866 576h1v1h-1zM309 577h2v1h-2zM683 577h1v1h-1zM819 577h1v1h-1zM867 577h2v1h-2zM278 578h1v1h-1zM314 578h3v1h-3zM684 578h1v2h-1zM277 579h1v1h-1zM276 580h1v1h-1zM320 580h1v1h-1zM321 581h1v1h-1zM648 581h1v3h-1zM817 581h1v1h-1zM871 581h1v1h-1zM322 582h1v1h-1zM816 582h1v1h-1zM872 582h1v1h-1zM686 583h1v2h-1zM815 583h1v1h-1zM873 583h1v1h-1zM273 584h1v2h-1zM326 584h1v1h-1zM327 585h2v1h-2zM687 585h1v1h-1zM272 586h1v1h-1zM332 587h1v1h-1zM646 587h1v1h-1zM813 587h1v1h-1zM876 587h1v1h-1zM333 588h1v2h-1zM645 588h1v2h-1zM812 588h1v2h-1zM877 588h1v1h-1zM688 589h1v2h-1zM878 589h1v1h-1zM269 590h1v1h-1zM268 591h1v2h-1zM420 591h1v1h-1zM424 591h2v1h-2zM689 591h1v1h-1zM121 592h3v1h-3zM418 592h2v1h-2zM426 592h1v1h-1zM430 592h1v1h-1zM117 593h1v1h-1zM126 593h1v1h-1zM335 593h1v2h-1zM431 593h2v1h-2zM460 593h3v1h-3zM644 593h1v2h-1zM810 593h1v1h-1zM881 593h1v1h-1zM116 594h1v2h-1zM127 594h1v2h-1zM413 594h2v1h-2zM454 594h3v1h-3zM809 594h1v2h-1zM882 594h1v1h-1zM336 595h1v1h-1zM412 595h1v1h-1zM436 595h3v1h-3zM466 595h1v1h-1zM643 595h1v1h-1zM690 595h1v1h-1zM883 595h1v1h-1zM173 596h1v1h-1zM177 596h3v1h-3zM265 596h1v1h-1zM449 596h2v1h-2zM467 596h2v1h-2zM691 596h1v2h-1zM172 597h1v2h-1zM264 597h1v1h-1zM442 597h2v1h-2zM448 597h1v1h-1zM182 598h1v1h-1zM263 598h1v1h-1zM408 598h1v1h-1zM444 598h1v1h-1zM114 599h1v1h-1zM130 599h1v2h-1zM183 599h1v2h-1zM337 599h1v2h-1zM407 599h1v1h-1zM642 599h1v3h-1zM807 599h1v1h-1zM886 599h1v1h-1zM916 599h2v1h-2zM113 600h1v2h-1zM406 600h1v1h-1zM471 600h1v2h-1zM806 600h1v2h-1zM887 600h1v1h-1zM912 600h1v1h-1zM918 600h1v1h-1zM131 601h1v1h-1zM338 601h1v1h-1zM692 601h1v1h-1zM888 601h1v1h-1zM910 601h2v1h-2zM170 602h1v1h-1zM260 602h1v1h-1zM472 602h1v1h-1zM693 602h1v2h-1zM169 603h1v1h-1zM259 603h1v2h-1zM906 603h1v1h-1zM168 604h1v1h-1zM186 604h1v2h-1zM403 604h1v2h-1zM904 604h2v1h-2zM920 604h1v1h-1zM111 605h1v1h-1zM133 605h1v2h-1zM339 605h1v1h-1zM533 605h2v1h-2zM641 605h1v2h-1zM804 605h1v2h-1zM892 605h1v1h-1zM921 605h1v1h-1zM110 606h1v2h-1zM187 606h1v1h-1zM340 606h1v2h-1zM402 606h1v1h-1zM475 606h1v2h-1zM528 606h2v1h-2zM535 606h1v1h-1zM893 606h2v1h-2zM898 606h3v1h-3zM922 606h1v1h-1zM134 607h1v1h-1zM527 607h1v1h-1zM640 607h1v1h-1zM695 607h1v1h-1zM803 607h1v1h-1zM166 608h1v2h-1zM255 608h1v2h-1zM476 608h1v1h-1zM539 608h2v1h-2zM696 608h1v2h-1zM524 609h1v1h-1zM541 609h1v1h-1zM165 610h1v1h-1zM189 610h1v1h-1zM254 610h1v1h-1zM400 610h1v2h-1zM523 610h1v2h-1zM924 610h1v1h-1zM107 611h1v2h-1zM135 611h1v2h-1zM190 611h2v1h-2zM341 611h1v1h-1zM545 611h2v1h-2zM639 611h1v3h-1zM801 611h1v3h-1zM925 611h1v2h-1zM342 612h1v2h-1zM399 612h1v1h-1zM478 612h1v1h-1zM547 612h1v1h-1zM718 612h1v1h-1zM106 613h1v1h-1zM136 613h1v1h-1zM479 613h1v2h-1zM698 613h1v1h-1zM719 613h2v1h-2zM164 614h1v1h-1zM195 614h1v1h-1zM251 614h1v2h-1zM551 614h1v1h-1zM699 614h1v2h-1zM163 615h1v2h-1zM196 615h1v1h-1zM520 615h1v1h-1zM552 615h1v1h-1zM715 615h1v1h-1zM724 615h1v1h-1zM197 616h1v1h-1zM250 616h1v1h-1zM397 616h1v2h-1zM519 616h1v2h-1zM553 616h1v1h-1zM714 616h1v1h-1zM725 616h1v1h-1zM927 616h1v2h-1zM104 617h1v1h-1zM137 617h1v1h-1zM343 617h1v2h-1zM638 617h1v2h-1zM713 617h1v1h-1zM726 617h1v1h-1zM799 617h1v1h-1zM103 618h1v2h-1zM138 618h1v2h-1zM396 618h1v1h-1zM481 618h1v1h-1zM702 618h1v1h-1zM798 618h1v2h-1zM928 618h1v1h-1zM201 619h1v1h-1zM344 619h1v1h-1zM482 619h1v2h-1zM557 619h1v1h-1zM637 619h1v1h-1zM703 619h2v1h-2zM162 620h1v1h-1zM202 620h1v1h-1zM247 620h1v2h-1zM558 620h1v2h-1zM161 621h1v2h-1zM203 621h1v1h-1zM517 621h1v1h-1zM708 621h1v1h-1zM710 621h1v1h-1zM729 621h1v1h-1zM246 622h1v1h-1zM395 622h1v1h-1zM516 622h1v2h-1zM709 622h1v1h-1zM730 622h1v1h-1zM929 622h1v2h-1zM100 623h1v2h-1zM139 623h1v1h-1zM345 623h1v2h-1zM394 623h1v2h-1zM636 623h1v3h-1zM731 623h1v1h-1zM796 623h1v1h-1zM140 624h1v2h-1zM484 624h1v1h-1zM795 624h1v2h-1zM930 624h1v1h-1zM53 625h1v1h-1zM99 625h1v1h-1zM206 625h1v1h-1zM346 625h1v1h-1zM485 625h1v2h-1zM561 625h1v1h-1zM52 626h1v1h-1zM54 626h1v1h-1zM159 626h1v3h-1zM207 626h1v1h-1zM244 626h1v2h-1zM562 626h1v2h-1zM208 627h1v1h-1zM514 627h1v1h-1zM734 627h1v2h-1zM243 628h1v1h-1zM392 628h1v3h-1zM513 628h1v2h-1zM931 628h1v1h-1zM96 629h1v2h-1zM142 629h1v2h-1zM347 629h1v3h-1zM635 629h1v2h-1zM735 629h1v1h-1zM792 629h1v2h-1zM932 629h1v2h-1zM49 630h1v1h-1zM58 630h1v1h-1zM487 630h1v1h-1zM48 631h1v1h-1zM59 631h1v1h-1zM95 631h1v1h-1zM143 631h1v1h-1zM210 631h1v1h-1zM488 631h1v2h-1zM565 631h1v2h-1zM634 631h1v1h-1zM791 631h1v1h-1zM47 632h1v1h-1zM60 632h1v1h-1zM157 632h1v2h-1zM211 632h1v1h-1zM241 632h1v3h-1zM212 633h1v1h-1zM511 633h1v2h-1zM566 633h1v1h-1zM737 633h1v3h-1zM156 634h1v1h-1zM390 634h1v2h-1zM933 634h1v1h-1zM92 635h1v1h-1zM146 635h1v2h-1zM349 635h1v3h-1zM510 635h1v1h-1zM633 635h1v3h-1zM789 635h1v1h-1zM934 635h1v2h-1zM44 636h1v2h-1zM63 636h1v2h-1zM91 636h1v2h-1zM389 636h1v1h-1zM490 636h1v1h-1zM788 636h1v2h-1zM147 637h1v1h-1zM152 637h1v1h-1zM214 637h1v2h-1zM491 637h1v2h-1zM568 637h1v2h-1zM43 638h1v1h-1zM64 638h1v1h-1zM151 638h1v1h-1zM239 638h1v1h-1zM150 639h1v1h-1zM215 639h1v1h-1zM238 639h1v2h-1zM508 639h1v1h-1zM569 639h1v1h-1zM739 639h1v1h-1zM388 640h1v2h-1zM507 640h1v1h-1zM740 640h1v2h-1zM936 640h1v1h-1zM87 641h1v2h-1zM350 641h1v1h-1zM506 641h1v1h-1zM632 641h1v1h-1zM785 641h1v1h-1zM937 641h1v2h-1zM42 642h1v2h-1zM66 642h1v2h-1zM351 642h1v2h-1zM387 642h1v1h-1zM494 642h2v1h-2zM631 642h1v2h-1zM784 642h1v2h-1zM86 643h1v1h-1zM217 643h1v2h-1zM496 643h1v1h-1zM570 643h1v1h-1zM41 644h1v1h-1zM67 644h1v1h-1zM236 644h1v1h-1zM571 644h1v2h-1zM743 644h2v1h-2zM218 645h1v1h-1zM235 645h1v1h-1zM500 645h1v1h-1zM502 645h1v1h-1zM745 645h1v1h-1zM234 646h1v1h-1zM386 646h1v2h-1zM501 646h1v1h-1zM939 646h1v1h-1zM82 647h1v1h-1zM352 647h1v1h-1zM630 647h1v3h-1zM749 647h1v1h-1zM781 647h1v1h-1zM940 647h1v2h-1zM40 648h1v1h-1zM69 648h1v1h-1zM81 648h1v2h-1zM353 648h1v2h-1zM385 648h1v1h-1zM750 648h2v1h-2zM780 648h1v1h-1zM39 649h1v2h-1zM70 649h2v1h-2zM220 649h1v2h-1zM573 649h1v1h-1zM779 649h1v1h-1zM232 650h1v1h-1zM574 650h1v1h-1zM221 651h1v1h-1zM231 651h1v1h-1zM575 651h1v1h-1zM597 651h2v1h-2zM755 651h2v1h-2zM943 651h1v1h-1zM75 652h2v1h-2zM225 652h1v1h-1zM230 652h1v1h-1zM384 652h1v1h-1zM596 652h1v1h-1zM602 652h2v1h-2zM757 652h1v1h-1zM775 652h1v1h-1zM944 652h1v1h-1zM957 652h1v1h-1zM77 653h1v1h-1zM226 653h2v1h-2zM354 653h1v2h-1zM383 653h1v2h-1zM604 653h1v1h-1zM628 653h1v1h-1zM761 653h3v1h-3zM774 653h1v1h-1zM945 653h1v1h-1zM955 653h2v1h-2zM961 653h3v1h-3zM37 654h1v2h-1zM592 654h1v1h-1zM627 654h1v2h-1zM767 654h3v1h-3zM773 654h1v1h-1zM355 655h1v1h-1zM578 655h1v1h-1zM590 655h2v1h-2zM951 655h1v1h-1zM967 655h1v1h-1zM36 656h1v1h-1zM579 656h1v1h-1zM608 656h1v1h-1zM949 656h2v1h-2zM968 656h1v1h-1zM580 657h1v1h-1zM584 657h3v1h-3zM609 657h1v2h-1zM969 657h1v1h-1zM382 658h1v1h-1zM356 659h1v3h-1zM381 659h1v2h-1zM624 659h1v2h-1zM34 660h1v1h-1zM973 660h1v1h-1zM33 661h1v2h-1zM623 661h1v1h-1zM974 661h1v1h-1zM613 662h2v1h-2zM975 662h1v1h-1zM615 663h1v1h-1zM378 664h1v2h-1zM619 664h1v1h-1zM358 665h1v1h-1zM620 665h2v1h-2zM5 666h1v1h-1zM30 666h1v2h-1zM359 666h1v1h-1zM377 666h1v1h-1zM979 666h1v1h-1zM6 667h2v1h-2zM360 667h1v1h-1zM980 667h1v1h-1zM29 668h1v1h-1zM981 668h1v1h-1zM11 670h1v1h-1zM374 670h1v2h-1zM12 671h1v1h-1zM25 671h1v1h-1zM362 671h1v1h-1zM13 672h1v1h-1zM24 672h1v1h-1zM363 672h1v1h-1zM373 672h1v1h-1zM17 673h3v1h-3zM23 673h1v1h-1zM364 673h1v1h-1zM367 674h3v1h-3z" fill="#ff0000" shape-rendering="crispEdges"/>
<path d="M285 560h1v1h-1zM284 561h1v1h-1zM286 561h1v2h-1zM282 562h2v1h-2zM658 562h8v1h-8zM281 563h1v1h-1zM287 563h1v1h-1zM650 563h8v1h-8zM666 563h4v1h-4zM280 564h1v1h-1zM288 564h1v2h-1zM645 564h5v1h-5zM670 564h1v2h-1zM278 565h2v1h-2zM645 565h1v1h-1zM277 566h1v1h-1zM289 566h1v1h-1zM644 566h1v2h-1zM671 566h1v1h-1zM276 567h1v2h-1zM290 567h1v2h-1zM672 567h1v1h-1zM643 568h1v3h-1zM673 568h1v2h-1zM275 569h1v1h-1zM291 569h1v1h-1zM820 569h2v1h-2zM853 569h1v1h-1zM274 570h1v1h-1zM292 570h1v2h-1zM674 570h1v1h-1zM818 570h2v1h-2zM822 570h1v2h-1zM852 570h1v1h-1zM854 570h1v1h-1zM273 571h1v2h-1zM642 571h1v2h-1zM675 571h1v1h-1zM815 571h3v1h-3zM851 571h1v1h-1zM855 571h1v1h-1zM293 572h3v1h-3zM676 572h1v2h-1zM813 572h2v1h-2zM823 572h1v1h-1zM837 572h2v1h-2zM850 572h1v1h-1zM856 572h1v1h-1zM272 573h1v1h-1zM296 573h4v1h-4zM641 573h1v3h-1zM812 573h1v1h-1zM824 573h1v1h-1zM836 573h1v1h-1zM839 573h2v1h-2zM848 573h2v1h-2zM857 573h1v2h-1zM271 574h1v1h-1zM300 574h2v1h-2zM677 574h1v2h-1zM811 574h1v2h-1zM825 574h1v2h-1zM835 574h1v1h-1zM841 574h2v1h-2zM847 574h1v1h-1zM270 575h1v2h-1zM302 575h1v2h-1zM317 575h1v2h-1zM834 575h1v1h-1zM843 575h2v1h-2zM846 575h1v1h-1zM858 575h1v1h-1zM316 576h1v2h-1zM640 576h1v2h-1zM678 576h1v4h-1zM810 576h1v1h-1zM826 576h1v1h-1zM833 576h1v1h-1zM845 576h1v1h-1zM859 576h1v1h-1zM269 577h1v1h-1zM303 577h1v1h-1zM318 577h1v2h-1zM809 577h1v1h-1zM827 577h1v1h-1zM832 577h1v1h-1zM860 577h1v1h-1zM268 578h1v2h-1zM304 578h1v2h-1zM315 578h1v1h-1zM639 578h1v3h-1zM808 578h1v1h-1zM828 578h1v2h-1zM831 578h1v1h-1zM861 578h1v1h-1zM314 579h1v1h-1zM319 579h1v2h-1zM807 579h1v2h-1zM830 579h1v1h-1zM862 579h1v1h-1zM117 580h1v2h-1zM267 580h1v2h-1zM305 580h1v1h-1zM313 580h1v2h-1zM679 580h1v4h-1zM829 580h1v1h-1zM863 580h1v1h-1zM116 581h1v1h-1zM165 581h1v2h-1zM306 581h1v2h-1zM320 581h1v2h-1zM638 581h1v2h-1zM806 581h1v1h-1zM864 581h1v1h-1zM115 582h1v1h-1zM118 582h1v3h-1zM266 582h1v2h-1zM312 582h1v1h-1zM805 582h1v2h-1zM865 582h1v1h-1zM114 583h1v1h-1zM164 583h1v4h-1zM166 583h1v2h-1zM307 583h1v1h-1zM311 583h1v1h-1zM321 583h1v2h-1zM637 583h1v4h-1zM866 583h1v1h-1zM113 584h1v2h-1zM265 584h1v2h-1zM308 584h1v2h-1zM310 584h1v2h-1zM680 584h1v3h-1zM804 584h1v3h-1zM867 584h1v1h-1zM119 585h1v3h-1zM167 585h1v2h-1zM322 585h1v2h-1zM868 585h1v1h-1zM112 586h1v1h-1zM264 586h1v2h-1zM309 586h1v1h-1zM453 586h1v1h-1zM869 586h1v1h-1zM111 587h1v1h-1zM163 587h1v4h-1zM168 587h1v2h-1zM323 587h1v2h-1zM452 587h1v2h-1zM454 587h1v1h-1zM636 587h1v4h-1zM681 587h1v4h-1zM803 587h1v3h-1zM870 587h1v2h-1zM110 588h1v1h-1zM120 588h1v3h-1zM263 588h1v2h-1zM420 588h2v1h-2zM455 588h1v1h-1zM109 589h1v2h-1zM169 589h1v2h-1zM324 589h1v2h-1zM418 589h2v1h-2zM422 589h1v2h-1zM451 589h1v1h-1zM456 589h1v1h-1zM871 589h1v2h-1zM262 590h1v2h-1zM415 590h3v1h-3zM450 590h1v1h-1zM457 590h1v2h-1zM802 590h1v3h-1zM108 591h1v2h-1zM121 591h1v2h-1zM162 591h1v4h-1zM170 591h1v2h-1zM325 591h1v1h-1zM413 591h2v1h-2zM423 591h1v1h-1zM449 591h1v2h-1zM635 591h1v4h-1zM682 591h1v3h-1zM872 591h1v1h-1zM261 592h1v2h-1zM326 592h1v1h-1zM411 592h2v1h-2zM424 592h1v1h-1zM458 592h1v1h-1zM873 592h1v2h-1zM107 593h1v3h-1zM122 593h1v3h-1zM171 593h1v2h-1zM327 593h1v1h-1zM409 593h2v1h-2zM425 593h1v2h-1zM448 593h1v1h-1zM459 593h1v1h-1zM801 593h1v2h-1zM909 593h1v1h-1zM260 594h1v1h-1zM328 594h2v1h-2zM407 594h2v1h-2zM447 594h1v1h-1zM460 594h1v1h-1zM683 594h1v4h-1zM874 594h1v1h-1zM907 594h2v1h-2zM910 594h1v2h-1zM161 595h1v3h-1zM172 595h1v2h-1zM258 595h2v1h-2zM330 595h1v1h-1zM404 595h3v1h-3zM426 595h1v1h-1zM446 595h1v2h-1zM461 595h1v1h-1zM634 595h1v5h-1zM800 595h1v3h-1zM875 595h1v2h-1zM906 595h1v1h-1zM106 596h1v2h-1zM123 596h1v3h-1zM257 596h1v1h-1zM331 596h1v1h-1zM400 596h4v1h-4zM427 596h1v1h-1zM462 596h1v2h-1zM904 596h2v1h-2zM911 596h1v1h-1zM173 597h1v1h-1zM256 597h1v1h-1zM332 597h1v1h-1zM397 597h3v1h-3zM428 597h1v2h-1zM444 597h2v1h-2zM876 597h1v2h-1zM902 597h2v1h-2zM912 597h1v2h-1zM105 598h1v3h-1zM160 598h1v4h-1zM174 598h1v2h-1zM254 598h2v1h-2zM333 598h1v3h-1zM396 598h1v2h-1zM440 598h4v1h-4zM463 598h1v2h-1zM684 598h1v4h-1zM799 598h1v3h-1zM901 598h1v1h-1zM124 599h1v3h-1zM253 599h1v1h-1zM429 599h11v1h-11zM877 599h1v1h-1zM900 599h1v2h-1zM913 599h1v1h-1zM175 600h1v1h-1zM252 600h1v2h-1zM395 600h1v2h-1zM464 600h1v2h-1zM633 600h1v4h-1zM717 600h1v3h-1zM878 600h1v1h-1zM914 600h1v2h-1zM104 601h1v2h-1zM176 601h1v2h-1zM334 601h1v6h-1zM522 601h4v1h-4zM716 601h1v2h-1zM798 601h1v3h-1zM879 601h1v2h-1zM899 601h1v2h-1zM125 602h1v3h-1zM159 602h1v4h-1zM251 602h1v1h-1zM394 602h1v2h-1zM465 602h1v2h-1zM517 602h5v1h-5zM526 602h1v1h-1zM685 602h1v3h-1zM915 602h1v1h-1zM103 603h1v3h-1zM177 603h1v1h-1zM250 603h1v1h-1zM516 603h1v2h-1zM527 603h1v2h-1zM715 603h1v2h-1zM718 603h1v4h-1zM880 603h1v1h-1zM898 603h1v1h-1zM916 603h1v2h-1zM178 604h1v2h-1zM249 604h1v2h-1zM393 604h1v1h-1zM466 604h1v2h-1zM632 604h1v5h-1zM797 604h1v3h-1zM881 604h1v1h-1zM897 604h1v2h-1zM126 605h1v4h-1zM392 605h1v2h-1zM515 605h1v2h-1zM528 605h1v1h-1zM686 605h1v4h-1zM714 605h1v1h-1zM882 605h1v1h-1zM917 605h1v2h-1zM102 606h1v2h-1zM158 606h1v4h-1zM179 606h1v1h-1zM248 606h1v1h-1zM467 606h1v2h-1zM529 606h1v1h-1zM713 606h1v2h-1zM883 606h1v2h-1zM896 606h1v1h-1zM180 607h1v2h-1zM247 607h1v1h-1zM335 607h1v5h-1zM391 607h1v2h-1zM514 607h1v2h-1zM530 607h1v1h-1zM719 607h1v4h-1zM796 607h1v2h-1zM895 607h1v2h-1zM918 607h1v4h-1zM101 608h1v3h-1zM246 608h1v2h-1zM468 608h1v2h-1zM531 608h1v2h-1zM712 608h1v1h-1zM884 608h1v1h-1zM127 609h1v4h-1zM181 609h1v1h-1zM390 609h1v2h-1zM513 609h1v2h-1zM631 609h1v4h-1zM687 609h1v3h-1zM711 609h1v2h-1zM795 609h1v2h-1zM885 609h3v1h-3zM894 609h1v2h-1zM157 610h1v3h-1zM182 610h1v2h-1zM245 610h1v1h-1zM469 610h1v1h-1zM532 610h1v1h-1zM888 610h4v1h-4zM100 611h1v2h-1zM244 611h1v2h-1zM389 611h1v2h-1zM470 611h1v2h-1zM512 611h1v2h-1zM533 611h1v1h-1zM710 611h1v2h-1zM720 611h1v5h-1zM794 611h1v2h-1zM892 611h2v1h-2zM919 611h1v4h-1zM45 612h1v2h-1zM183 612h1v2h-1zM336 612h1v5h-1zM534 612h2v1h-2zM688 612h1v4h-1zM99 613h1v2h-1zM128 613h1v3h-1zM156 613h1v4h-1zM243 613h1v2h-1zM388 613h1v4h-1zM471 613h1v2h-1zM511 613h1v2h-1zM536 613h2v1h-2zM548 613h2v1h-2zM630 613h1v4h-1zM709 613h1v1h-1zM793 613h1v3h-1zM44 614h1v3h-1zM46 614h1v2h-1zM184 614h1v2h-1zM538 614h1v1h-1zM546 614h2v1h-2zM549 614h1v1h-1zM708 614h1v1h-1zM98 615h1v2h-1zM197 615h1v2h-1zM242 615h1v1h-1zM472 615h1v2h-1zM510 615h1v2h-1zM539 615h2v1h-2zM543 615h3v1h-3zM550 615h1v2h-1zM707 615h1v1h-1zM920 615h1v3h-1zM47 616h1v2h-1zM129 616h1v4h-1zM185 616h1v1h-1zM196 616h1v1h-1zM241 616h1v2h-1zM541 616h2v1h-2zM689 616h1v3h-1zM706 616h1v1h-1zM721 616h1v4h-1zM792 616h1v2h-1zM43 617h1v2h-1zM97 617h1v3h-1zM155 617h1v3h-1zM186 617h1v2h-1zM195 617h1v1h-1zM198 617h1v2h-1zM337 617h1v6h-1zM387 617h1v4h-1zM473 617h1v2h-1zM509 617h1v3h-1zM551 617h1v2h-1zM629 617h1v5h-1zM705 617h1v2h-1zM48 618h1v2h-1zM194 618h1v1h-1zM240 618h1v1h-1zM791 618h1v2h-1zM921 618h1v4h-1zM42 619h1v3h-1zM187 619h1v2h-1zM193 619h1v1h-1zM199 619h1v2h-1zM239 619h1v2h-1zM474 619h1v2h-1zM552 619h1v2h-1zM690 619h1v4h-1zM704 619h1v1h-1zM49 620h1v2h-1zM96 620h1v2h-1zM130 620h1v3h-1zM154 620h1v4h-1zM192 620h1v1h-1zM508 620h1v3h-1zM703 620h1v1h-1zM722 620h1v5h-1zM790 620h1v2h-1zM188 621h1v2h-1zM191 621h1v1h-1zM200 621h1v2h-1zM238 621h1v2h-1zM386 621h1v3h-1zM475 621h1v2h-1zM553 621h1v2h-1zM702 621h1v1h-1zM41 622h1v3h-1zM50 622h1v2h-1zM95 622h1v2h-1zM190 622h1v1h-1zM628 622h1v5h-1zM701 622h1v1h-1zM789 622h1v2h-1zM922 622h1v3h-1zM131 623h1v4h-1zM189 623h1v1h-1zM201 623h1v2h-1zM237 623h1v2h-1zM338 623h1v5h-1zM476 623h1v2h-1zM507 623h1v2h-1zM554 623h1v2h-1zM691 623h1v3h-1zM700 623h1v1h-1zM51 624h1v2h-1zM94 624h1v2h-1zM153 624h1v3h-1zM385 624h1v4h-1zM699 624h1v1h-1zM788 624h1v2h-1zM40 625h1v3h-1zM202 625h1v2h-1zM236 625h1v2h-1zM477 625h1v2h-1zM506 625h1v3h-1zM555 625h1v2h-1zM698 625h1v1h-1zM723 625h1v4h-1zM923 625h1v4h-1zM52 626h1v2h-1zM93 626h1v2h-1zM692 626h1v4h-1zM697 626h1v2h-1zM787 626h1v1h-1zM92 627h1v1h-1zM132 627h1v4h-1zM152 627h1v4h-1zM203 627h1v2h-1zM235 627h1v2h-1zM478 627h1v2h-1zM556 627h1v2h-1zM627 627h1v6h-1zM786 627h1v2h-1zM39 628h1v2h-1zM53 628h1v3h-1zM90 628h2v1h-2zM339 628h1v5h-1zM384 628h1v3h-1zM505 628h1v3h-1zM696 628h1v1h-1zM87 629h3v1h-3zM204 629h1v2h-1zM234 629h1v2h-1zM479 629h1v2h-1zM557 629h1v2h-1zM695 629h1v1h-1zM724 629h1v4h-1zM785 629h1v1h-1zM924 629h1v4h-1zM38 630h1v3h-1zM85 630h2v1h-2zM693 630h2v1h-2zM784 630h1v2h-1zM54 631h1v4h-1zM84 631h1v2h-1zM133 631h1v3h-1zM151 631h1v3h-1zM205 631h1v2h-1zM233 631h1v3h-1zM383 631h1v4h-1zM480 631h1v2h-1zM504 631h1v3h-1zM558 631h1v3h-1zM693 631h1v1h-1zM783 632h1v1h-1zM37 633h1v3h-1zM83 633h1v2h-1zM206 633h1v4h-1zM340 633h1v6h-1zM481 633h1v2h-1zM626 633h1v5h-1zM725 633h1v3h-1zM782 633h1v2h-1zM925 633h1v3h-1zM134 634h1v2h-1zM150 634h1v4h-1zM232 634h1v2h-1zM503 634h1v2h-1zM559 634h1v3h-1zM55 635h1v4h-1zM82 635h1v2h-1zM382 635h1v4h-1zM482 635h1v2h-1zM781 635h1v1h-1zM36 636h1v3h-1zM135 636h1v2h-1zM231 636h1v2h-1zM502 636h1v3h-1zM726 636h2v1h-2zM780 636h1v2h-1zM926 636h1v3h-1zM81 637h1v1h-1zM207 637h1v3h-1zM483 637h1v2h-1zM560 637h1v3h-1zM728 637h1v1h-1zM80 638h1v2h-1zM136 638h1v2h-1zM149 638h1v2h-1zM230 638h1v2h-1zM625 638h1v5h-1zM729 638h1v1h-1zM779 638h1v1h-1zM35 639h1v3h-1zM56 639h1v4h-1zM341 639h1v4h-1zM381 639h1v3h-1zM484 639h1v2h-1zM501 639h1v2h-1zM730 639h2v1h-2zM778 639h1v2h-1zM927 639h1v4h-1zM79 640h1v2h-1zM137 640h1v2h-1zM148 640h1v1h-1zM208 640h1v3h-1zM229 640h1v3h-1zM561 640h1v2h-1zM732 640h1v1h-1zM147 641h1v1h-1zM485 641h1v1h-1zM500 641h1v2h-1zM733 641h1v1h-1zM777 641h1v1h-1zM34 642h1v3h-1zM78 642h1v2h-1zM138 642h1v2h-1zM146 642h1v1h-1zM380 642h1v2h-1zM486 642h1v2h-1zM562 642h1v3h-1zM734 642h1v2h-1zM776 642h1v2h-1zM57 643h1v3h-1zM145 643h1v2h-1zM209 643h1v4h-1zM228 643h1v3h-1zM342 643h1v4h-1zM499 643h1v2h-1zM624 643h1v5h-1zM928 643h1v3h-1zM77 644h1v1h-1zM139 644h1v2h-1zM379 644h1v3h-1zM487 644h1v2h-1zM735 644h1v1h-1zM775 644h1v1h-1zM33 645h1v2h-1zM76 645h1v2h-1zM144 645h1v1h-1zM498 645h1v2h-1zM563 645h1v3h-1zM736 645h1v1h-1zM774 645h1v2h-1zM58 646h1v4h-1zM140 646h1v2h-1zM143 646h1v1h-1zM227 646h1v3h-1zM488 646h1v2h-1zM589 646h1v1h-1zM737 646h1v2h-1zM929 646h1v3h-1zM32 647h1v3h-1zM75 647h1v2h-1zM142 647h1v1h-1zM210 647h1v3h-1zM343 647h1v3h-1zM378 647h1v3h-1zM497 647h1v2h-1zM588 647h1v2h-1zM590 647h2v1h-2zM749 647h1v1h-1zM773 647h1v1h-1zM141 648h1v1h-1zM489 648h1v2h-1zM564 648h1v3h-1zM592 648h2v1h-2zM623 648h1v6h-1zM738 648h1v1h-1zM747 648h2v1h-2zM750 648h1v1h-1zM772 648h1v2h-1zM74 649h1v1h-1zM226 649h1v3h-1zM496 649h1v2h-1zM587 649h1v1h-1zM594 649h1v1h-1zM739 649h1v1h-1zM746 649h1v1h-1zM751 649h1v1h-1zM930 649h1v3h-1zM956 649h2v1h-2zM31 650h1v3h-1zM59 650h1v4h-1zM73 650h1v2h-1zM211 650h1v3h-1zM344 650h1v4h-1zM377 650h1v2h-1zM490 650h1v2h-1zM586 650h1v1h-1zM595 650h2v1h-2zM740 650h1v2h-1zM744 650h2v1h-2zM752 650h1v1h-1zM771 650h1v1h-1zM954 650h2v1h-2zM958 650h1v2h-1zM495 651h1v2h-1zM565 651h1v2h-1zM585 651h1v2h-1zM597 651h1v1h-1zM742 651h2v1h-2zM753 651h1v2h-1zM770 651h1v1h-1zM951 651h3v1h-3zM72 652h1v1h-1zM225 652h1v2h-1zM376 652h1v3h-1zM491 652h1v2h-1zM598 652h1v2h-1zM741 652h1v1h-1zM769 652h1v2h-1zM931 652h1v4h-1zM949 652h2v1h-2zM959 652h1v2h-1zM30 653h1v3h-1zM71 653h1v2h-1zM212 653h1v4h-1zM494 653h1v2h-1zM566 653h1v2h-1zM584 653h1v1h-1zM754 653h1v1h-1zM947 653h2v1h-2zM60 654h1v4h-1zM224 654h1v3h-1zM345 654h1v3h-1zM492 654h1v2h-1zM583 654h1v1h-1zM599 654h1v1h-1zM622 654h1v5h-1zM755 654h1v1h-1zM768 654h1v1h-1zM945 654h2v1h-2zM960 654h1v2h-1zM70 655h1v2h-1zM375 655h1v3h-1zM493 655h1v2h-1zM567 655h1v2h-1zM582 655h1v2h-1zM600 655h1v1h-1zM756 655h1v1h-1zM767 655h1v1h-1zM943 655h2v1h-2zM29 656h1v3h-1zM601 656h1v2h-1zM757 656h3v1h-3zM766 656h1v2h-1zM932 656h1v3h-1zM941 656h2v1h-2zM961 656h1v1h-1zM68 657h2v1h-2zM213 657h1v2h-1zM223 657h1v3h-1zM346 657h1v4h-1zM568 657h1v2h-1zM581 657h1v1h-1zM760 657h4v1h-4zM939 657h2v1h-2zM962 657h1v2h-1zM61 658h1v2h-1zM64 658h4v1h-4zM374 658h1v2h-1zM580 658h1v1h-1zM602 658h1v1h-1zM764 658h2v1h-2zM937 658h2v1h-2zM28 659h1v2h-1zM62 659h2v1h-2zM214 659h2v1h-2zM569 659h1v1h-1zM579 659h1v1h-1zM603 659h1v1h-1zM621 659h1v3h-1zM933 659h1v2h-1zM935 659h2v1h-2zM963 659h1v2h-1zM216 660h1v1h-1zM222 660h1v3h-1zM373 660h1v3h-1zM570 660h1v2h-1zM578 660h1v1h-1zM604 660h1v2h-1zM934 660h1v1h-1zM27 661h1v2h-1zM217 661h1v1h-1zM347 661h1v3h-1zM577 661h1v2h-1zM964 661h1v2h-1zM218 662h2v1h-2zM571 662h1v2h-1zM605 662h1v1h-1zM620 662h1v2h-1zM26 663h1v2h-1zM220 663h2v1h-2zM372 663h1v2h-1zM576 663h1v1h-1zM606 663h1v2h-1zM965 663h1v1h-1zM221 664h1v1h-1zM348 664h1v4h-1zM572 664h1v2h-1zM575 664h1v1h-1zM619 664h1v1h-1zM966 664h2v1h-2zM25 665h1v2h-1zM371 665h1v2h-1zM574 665h1v1h-1zM607 665h1v1h-1zM618 665h1v2h-1zM968 665h2v1h-2zM573 666h1v1h-1zM608 666h1v1h-1zM970 666h1v1h-1zM24 667h1v2h-1zM370 667h1v2h-1zM609 667h1v2h-1zM617 667h1v1h-1zM971 667h2v1h-2zM349 668h1v2h-1zM616 668h1v2h-1zM973 668h1v1h-1zM23 669h1v2h-1zM369 669h1v2h-1zM610 669h1v1h-1zM974 669h2v1h-2zM350 670h1v1h-1zM611 670h1v1h-1zM615 670h1v1h-1zM976 670h2v1h-2zM22 671h1v2h-1zM351 671h1v1h-1zM368 671h1v2h-1zM612 671h1v2h-1zM614 671h1v2h-1zM978 671h1v1h-1zM352 672h1v1h-1zM979 672h2v1h-2zM21 673h1v2h-1zM353 673h1v2h-1zM367 673h1v2h-1zM613 673h1v1h-1zM981 673h1v1h-1zM5 674h16v1h-16zM354 675h1v1h-1zM366 675h1v2h-1zM355 676h1v1h-1zM356 677h1v1h-1zM365 677h1v2h-1zM357 678h8v1h-8z" fill="#20b2aa" shape-rendering="crispEdges"/>
<g shape-rendering="crispEdges">
<rect x="4" y="4" width="1244" height="1" fill="#000"/>
<rect x="4" y="4" width="1" height="682" fill="#000"/>
<rect x="4" y="548" width="1244" height="1" fill="#000"/>
<rect x="4" y="549" width="1244" height="1" fill="#fff"/>
<rect x="4" y="550" width="1244" height="1" fill="#000"/>
<rect x="4" y="685" width="1245" height="1" fill="#000"/>
<rect x="1247" y="4" width="1" height="682" fill="#000"/>
<rect x="1247" y="549" width="1" height="1" fill="#000"/>
<rect x="1248" y="17" width="2" height="1" fill="#000"/>
<rect x="1248" y="50" width="2" height="1" fill="#000"/>
<rect x="1248" y="83" width="2" height="1" fill="#000"/>
<rect x="1248" y="116" width="2" height="1" fill="#000"/>
<rect x="1248" y="149" width="2" height="1" fill="#000"/>
<rect x="1248" y="182" width="2" height="1" fill="#000"/>
<rect x="1248" y="215" width="2" height="1" fill="#000"/>
<rect x="1248" y="248" width="2" height="1" fill="#000"/>
<rect x="1248" y="281" width="2" height="1" fill="#000"/>
<rect x="1248" y="314" width="2" height="1" fill="#000"/>
<rect x="1248" y="347" width="2" height="1" fill="#000"/>
<rect x="1248" y="380" width="2" height="1" fill="#000"/>
<rect x="1248" y="413" width="2" height="1" fill="#000"/>
<rect x="1248" y="446" width="2" height="1" fill="#000"/>
<rect x="1248" y="479" width="2" height="1" fill="#000"/>
<rect x="1248" y="512" width="2" height="1" fill="#000"/>
<rect x="1248" y="545" width="2" height="1" fill="#000"/>
<rect x="1248" y="552" width="1" height="1" fill="#000"/>
<rect x="1248" y="684" width="1" height="1" fill="#000"/>
<rect x="5" y="686" width="1" height="3" fill="#000"/>
<rect x="69" y="686" width="1" height="3" fill="#000"/>
<rect x="133" y="686" width="1" height="3" fill="#000"/>
<rect x="197" y="686" width="1" height="3" fill="#000"/>
<rect x="261" y="686" width="1" height="3" fill="#000"/>
<rect x="325" y="686" width="1" height="3" fill="#000"/>
<rect x="389" y="686" width="1" height="3" fill="#000"/>
<rect x="453" y="686" width="1" height="3" fill="#000"/>
<rect x="517" y="686" width="1" height="3" fill="#000"/>
<rect x="581" y="686" width="1" height="3" fill="#000"/>
<rect x="645" y="686" width="1" height="3" fill="#000"/>
<rect x="709" y="686" width="1" height="3" fill="#000"/>
<rect x="773" y="686" width="1" height="3" fill="#000"/>
<rect x="837" y="686" width="1" height="3" fill="#000"/>
<rect x="901" y="686" width="1" height="3" fill="#000"/>
<rect x="965" y="686" width="1" height="3" fill="#000"/>
</g>
<text x="1253" y="20.7" textLength="33" lengthAdjust="spacingAndGlyphs">0.81605</text>
<text x="1253" y="53.7" textLength="33" lengthAdjust="spacingAndGlyphs">0.80755</text>
<text x="1253" y="86.7" textLength="33" lengthAdjust="spacingAndGlyphs">0.79905</text>
<text x="1253" y="119.7" textLength="33" lengthAdjust="spacingAndGlyphs">0.79055</text>
<text x="1253" y="152.7" textLength="33" lengthAdjust="spacingAndGlyphs">0.78205</text>
<text x="1253" y="185.7" textLength="33" lengthAdjust="spacingAndGlyphs">0.77355</text>
<text x="1253" y="218.7" textLength="33" lengthAdjust="spacingAndGlyphs">0.76505</text>
<text x="1253" y="251.7" textLength="33" lengthAdjust="spacingAndGlyphs">0.75655</text>
<text x="1253" y="284.7" textLength="33" lengthAdjust="spacingAndGlyphs">0.74805</text>
<text x="1253" y="317.7" textLength="33" lengthAdjust="spacingAndGlyphs">0.73955</text>
<text x="1253" y="350.7" textLength="33" lengthAdjust="spacingAndGlyphs">0.73105</text>
<text x="1253" y="383.7" textLength="33" lengthAdjust="spacingAndGlyphs">0.72255</text>
<text x="1253" y="416.7" textLength="33" lengthAdjust="spacingAndGlyphs">0.71405</text>
<text x="1253" y="449.7" textLength="33" lengthAdjust="spacingAndGlyphs">0.70555</text>
<text x="1253" y="482.7" textLength="33" lengthAdjust="spacingAndGlyphs">0.69705</text>
<text x="1253" y="515.7" textLength="33" lengthAdjust="spacingAndGlyphs">0.68855</text>
<text x="1253" y="548.7" textLength="33" lengthAdjust="spacingAndGlyphs">0.68005</text>
<text x="1250.2" y="560.7" textLength="15.6" lengthAdjust="spacingAndGlyphs">100</text>
<text x="1250.2" y="581.7" textLength="10.4" lengthAdjust="spacingAndGlyphs">80</text>
<text x="1250.2" y="661.7" textLength="10.4" lengthAdjust="spacingAndGlyphs">20</text>
<text x="1250.2" y="681.7" textLength="5.2" lengthAdjust="spacingAndGlyphs">0</text>
<g shape-rendering="crispEdges">
<rect x="1249" y="73" width="41" height="11" fill="#ff0000"/>
<rect x="1249" y="151" width="41" height="11" fill="#ff0000"/>
<rect x="1249" y="170" width="41" height="11" fill="#ff0000"/>
<rect x="1249" y="267" width="41" height="11" fill="#ff0000"/>
<rect x="1249" y="249" width="41" height="11" fill="#000"/>
</g>
<text class="w" x="1253" y="81.7" textLength="33" lengthAdjust="spacingAndGlyphs">0.80000</text>
<text class="w" x="1253" y="159.7" textLength="33" lengthAdjust="spacingAndGlyphs">0.78000</text>
<text class="w" x="1253" y="178.7" textLength="33" lengthAdjust="spacingAndGlyphs">0.77500</text>
<text class="w" x="1253" y="275.7" textLength="33" lengthAdjust="spacingAndGlyphs">0.75000</text>
<text class="w" x="1253" y="257.7" textLength="33" lengthAdjust="spacingAndGlyphs">0.75489</text>
<text class="fib" x="1233" y="28.6" textLength="13" lengthAdjust="spacingAndGlyphs">0.0</text>
<text class="fib" x="1228" y="101.6" textLength="18" lengthAdjust="spacingAndGlyphs">23.6</text>
<text class="fib" x="1228" y="146.6" textLength="18" lengthAdjust="spacingAndGlyphs">38.2</text>
<text class="fib" x="1228" y="182.6" textLength="18" lengthAdjust="spacingAndGlyphs">50.0</text>
<text class="fib" x="1228" y="219.6" textLength="18" lengthAdjust="spacingAndGlyphs">61.8</text>
<text class="fib" x="1223" y="337.6" textLength="23" lengthAdjust="spacingAndGlyphs">100.0</text>
<text class="fib" x="1223" y="528.6" textLength="23" lengthAdjust="spacingAndGlyphs">161.8</text>
<path d="M8 11h7l-3.5 4z" fill="#000"/>
<text y="16"><tspan x="20.5" textLength="73.5" lengthAdjust="spacingAndGlyphs">AUDUSD,Weekly</tspan><tspan x="101.2" textLength="31.6" lengthAdjust="spacingAndGlyphs">0.76488</tspan><tspan x="137.2" textLength="31.6" lengthAdjust="spacingAndGlyphs">0.76647</tspan><tspan x="173" textLength="31.6" lengthAdjust="spacingAndGlyphs">0.75349</tspan><tspan x="209.3" textLength="31.6" lengthAdjust="spacingAndGlyphs">0.75489</tspan></text>
<text x="9" y="563" textLength="116.5" lengthAdjust="spacingAndGlyphs">Stoch(5,3,3) 8.1701 12.1822</text>
<text transform="translate(5,698) scale(0.935,1)">12 Jul 2015</text>
<text transform="translate(69,698) scale(0.935,1)">6 Sep 2015</text>
<text transform="translate(133,698) scale(0.935,1)">1 Nov 2015</text>
<text transform="translate(197,698) scale(0.935,1)">27 Dec 2015</text>
<text transform="translate(261,698) scale(0.935,1)">21 Feb 2016</text>
<text transform="translate(325,698) scale(0.935,1)">17 Apr 2016</text>
<text transform="translate(389,698) scale(0.935,1)">12 Jun 2016</text>
<text transform="translate(453,698) scale(0.935,1)">7 Aug 2016</text>
<text transform="translate(517,698) scale(0.935,1)">2 Oct 2016</text>
<text transform="translate(581,698) scale(0.935,1)">27 Nov 2016</text>
<text transform="translate(645,698) scale(0.935,1)">22 Jan 2017</text>
<text transform="translate(709,698) scale(0.935,1)">19 Mar 2017</text>
<text transform="translate(773,698) scale(0.935,1)">14 May 2017</text>
<text transform="translate(837,698) scale(0.935,1)">9 Jul 2017</text>
<text transform="translate(901,698) scale(0.935,1)">3 Sep 2017</text>
<text transform="translate(965,698) scale(0.935,1)">29 Oct 2017</text>
</svg></body></html>
